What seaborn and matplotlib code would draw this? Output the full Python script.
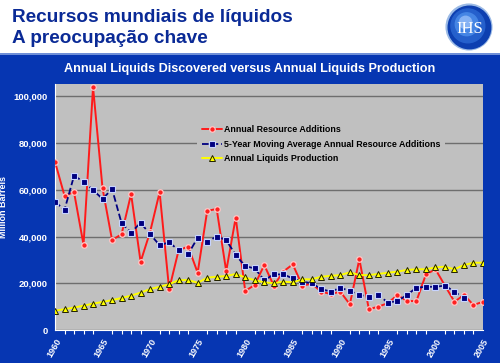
import matplotlib
matplotlib.use("Agg")
import matplotlib.pyplot as plt
import matplotlib.ticker as mticker
from matplotlib.patches import Rectangle, Circle
import seaborn as sns

years = list(range(1960, 2006))
resource_additions = [72000, 57500, 59000, 36500, 104000, 60600, 38500, 41000, 58200, 29200,
                      42000, 59000, 17400, 34200, 35700, 24500, 51000, 51800, 25200, 48100,
                      16700, 19300, 27800, 19000, 25000, 28100, 19000, 19800, 16400, 15400,
                      16400, 11000, 30300, 8900, 10000, 11500, 15000, 12400, 12400, 23800,
                      26000, 19000, 12100, 15000, 10700, 12100]
ma_years = list(range(1960, 2004))
moving_average = [54900, 51400, 66000, 63500, 59900, 56100, 60400, 45700, 41700, 45900,
                  41000, 36300, 37500, 34200, 32500, 39500, 37800, 40000, 38500, 32100,
                  27300, 26400, 21300, 23800, 23800, 22100, 20700, 20000, 17500, 16400,
                  18100, 16700, 15000, 14300, 15000, 11700, 12400, 15000, 18100, 18500,
                  18500, 19000, 16400, 13600]
production = [8300, 8900, 9600, 10400, 11300, 12000, 12800, 13700, 14700, 16000,
              17500, 18500, 19600, 21300, 21400, 20200, 22400, 22800, 23100, 24000,
              22500, 21300, 20400, 20000, 20700, 20400, 21700, 21700, 22800, 23200,
              23500, 24700, 23500, 23500, 24000, 24500, 25000, 25700, 26000, 26000,
              26800, 27100, 26000, 27800, 28800, 28800]

series_names = ["Annual Resource Additions",
                "5-Year Moving Average Annual Resource Additions",
                "Annual Liquids Production"]
title_lines = ["Recursos mundiais de líquidos", "A preocupação chave"]
subtitle = "Annual Liquids Discovered versus Annual Liquids Production"

BLUE = "#0636b2"
NAVY = "#0a2a96"

sns.set_style("white")
plt.rcParams["font.family"] = ["Liberation Sans", "DejaVu Sans"]
plt.rcParams["font.weight"] = "bold"

fig = plt.figure(figsize=(5.0, 3.63), dpi=100, facecolor=BLUE)

# white header band
fig.patches.append(Rectangle((0, 1 - 53 / 363), 1, 53 / 363, transform=fig.transFigure,
                             facecolor="white", edgecolor="none", zorder=-2))
fig.patches.append(Rectangle((0, 1 - 55 / 363), 1, 2 / 363, transform=fig.transFigure,
                             facecolor="#6f8fd8", edgecolor="none", zorder=-2))

fig.text(12 / 500, 1 - 22 / 363, title_lines[0], color=NAVY, fontsize=13.7,
         fontweight="bold", va="baseline")
fig.text(12 / 500, 1 - 43 / 363, title_lines[1], color=NAVY, fontsize=13.7,
         fontweight="bold", va="baseline")
fig.text(250 / 500, 1 - 72 / 363, subtitle, color="white", fontsize=9.1,
         fontweight="bold", ha="center", va="baseline")

# IHS logo
lax = fig.add_axes([445 / 500, 1 - 51 / 363, 48 / 500, 48 / 363])
lax.set_zorder(10)
lax.patch.set_alpha(0)
lax.set_xlim(-1.05, 1.05)
lax.set_ylim(-1.05, 1.05)
lax.set_aspect("equal")
lax.axis("off")
lax.add_patch(Circle((0, 0), 1.0, color="#9cbbe6"))
lax.add_patch(Circle((0.02, -0.02), 0.93, color="#0d3fb0"))
lax.add_patch(Circle((-0.05, 0.05), 0.74, color="#2560cc"))
lax.add_patch(Circle((-0.1, 0.12), 0.5, color="#4585e4"))
lax.add_patch(Circle((-0.15, 0.2), 0.27, color="#86b2f4"))
lax.text(0.02, -0.1, "IHS", color="white", fontsize=12, family="Liberation Serif",
         fontweight="normal", ha="center", va="center")

ax = fig.add_axes([55 / 500, 1 - 330 / 363, 428 / 500, 246 / 363])
ax.set_facecolor("#c0c0c0")

sns.lineplot(x=years, y=resource_additions, ax=ax, color="#ff1a1a", lw=1.4,
             marker="o", markersize=4, markerfacecolor="#ff2020",
             markeredgecolor="#ffc8c8", markeredgewidth=0.9,
             label=series_names[0], zorder=3)
sns.lineplot(x=ma_years, y=moving_average, ax=ax, color="#000080", lw=1.3,
             linestyle="--", marker="s", markersize=4.5, markerfacecolor="#000080",
             markeredgecolor="#c8d4ff", markeredgewidth=0.8,
             label=series_names[1], zorder=4)
sns.lineplot(x=years, y=production, ax=ax, color="#ffff00", lw=1.4,
             marker="^", markersize=5, markerfacecolor="#ffff00",
             markeredgecolor="#202000", markeredgewidth=0.7,
             label=series_names[2], zorder=5)

ax.set_xlim(1960, 2005)
ax.set_ylim(0, 105300)
ax.set_yticks(range(0, 100001, 20000))
ax.yaxis.set_major_formatter(mticker.FuncFormatter(lambda v, p: f"{int(v):,}"))
ax.set_xticks(range(1960, 2006, 5))
ax.xaxis.set_minor_locator(mticker.MultipleLocator(1))
ax.yaxis.grid(True, color="#6e6e6e", lw=1.0)
ax.xaxis.grid(False)
ax.set_axisbelow(True)

ax.tick_params(axis="y", length=0, pad=5, labelsize=6.8, labelcolor="white")
ax.tick_params(axis="x", which="both", length=3, width=0.8, color="white",
               direction="out", labelsize=6.5, labelcolor="white", pad=2)
ax.tick_params(axis="x", which="minor", bottom=True)
for lab in ax.get_xticklabels():
    lab.set_rotation(60)
    lab.set_ha("right")
    lab.set_rotation_mode("anchor")
    lab.set_fontweight("bold")
for lab in ax.get_yticklabels():
    lab.set_fontweight("bold")

for side in ["top", "right"]:
    ax.spines[side].set_visible(False)
for side in ["left", "bottom"]:
    ax.spines[side].set_color("white")
    ax.spines[side].set_linewidth(0.8)

ax.set_xlabel("")
ax.set_ylabel("Million Barrels", color="white", fontsize=6.5, fontweight="bold",
              labelpad=4)

leg = ax.legend(loc="upper left", bbox_to_anchor=(197 / 500, 1 - 120 / 363),
                bbox_transform=fig.transFigure, frameon=True, fontsize=6.4,
                handlelength=2.2, handletextpad=0.2, borderpad=0.6,
                labelspacing=0.6, borderaxespad=0)
leg.get_frame().set_facecolor("#c0c0c0")
leg.get_frame().set_edgecolor("none")
leg.get_frame().set_alpha(1)
for t in leg.get_texts():
    t.set_fontweight("bold")
    t.set_color("black")

fig.savefig("out.png", dpi=100, facecolor=BLUE)
